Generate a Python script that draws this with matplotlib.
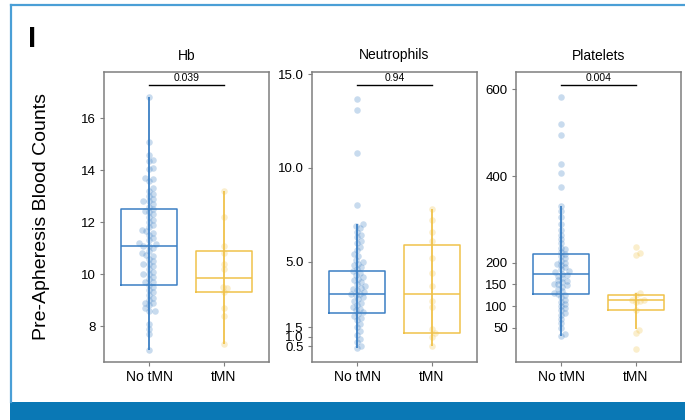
import numpy as np
import matplotlib
matplotlib.use("Agg")
import matplotlib.pyplot as plt
from matplotlib.patches import Rectangle
from matplotlib.lines import Line2D

plt.rcParams['font.family'] = ['Liberation Sans', 'DejaVu Sans']

categories = ["No tMN", "tMN"]
panels = ["Hb", "Neutrophils", "Platelets"]
pvalues = ["0.039", "0.94", "0.004"]

hb_no = [16.8, 15.1, 14.6, 14.4, 14.35, 14.1, 14.05, 13.7, 13.65, 13.6, 13.3, 13.2, 13.1, 13.0,
         12.9, 12.8, 12.8, 12.7, 12.6, 12.5, 12.45, 12.4, 12.3, 12.2, 12.1, 12.0, 11.9, 11.8,
         11.7, 11.65, 11.6, 11.5, 11.4, 11.3, 11.2, 11.15, 11.1, 11.1, 11.0, 10.9, 10.8, 10.75,
         10.7, 10.6, 10.5, 10.4, 10.4, 10.3, 10.2, 10.1, 10.0, 10.0, 9.9, 9.8, 9.7, 9.7, 9.6,
         9.5, 9.4, 9.3, 9.2, 9.1, 9.0, 8.9, 8.9, 8.8, 8.7, 8.6, 8.6, 8.1, 7.9, 7.7, 7.1]
hb_t = [13.2, 12.2, 11.1, 10.8, 10.4, 10.2, 9.5, 9.45, 9.3, 8.7, 8.4, 7.3]

neu_no = [13.7, 13.1, 10.8, 8.0, 7.0, 6.9, 6.8, 6.6, 6.4, 6.3, 6.1, 6.0, 5.8, 5.6, 5.4, 5.3,
          5.1, 5.0, 4.9, 4.8, 4.7, 4.6, 4.5, 4.4, 4.3, 4.2, 4.1, 4.0, 3.9, 3.8, 3.7, 3.6, 3.55,
          3.5, 3.4, 3.3, 3.3, 3.2, 3.1, 3.0, 2.9, 2.8, 2.7, 2.6, 2.5, 2.4, 2.3, 2.2, 2.1, 2.0,
          1.9, 1.7, 1.5, 1.3, 1.1, 0.9, 0.7, 0.5, 0.4]
neu_t = [7.8, 7.2, 6.6, 6.1, 5.2, 4.4, 3.7, 2.9, 2.6, 1.4, 1.2, 1.0, 0.5]

plt_no = [582, 520, 495, 428, 406, 375, 332, 320, 305, 290, 275, 265, 255, 245, 235, 232, 225,
          220, 215, 210, 205, 200, 198, 195, 190, 185, 180, 178, 175, 172, 170, 165, 160, 158,
          155, 152, 150, 148, 145, 140, 135, 130, 128, 125, 120, 115, 110, 105, 100, 95, 90, 85,
          80, 70, 60, 50, 35, 32]
plt_t = [236, 223, 218, 130, 125, 115, 113, 112, 110, 92, 45, 37, 0]

# box statistics: (whislo, q1, med, q3, whishi)
hb_stats = [(7.1, 9.6, 11.1, 12.5, 16.8), (7.3, 9.3, 9.85, 10.9, 13.2)]
neu_stats = [(0.4, 2.28, 3.26, 4.49, 7.0), (0.5, 1.2, 3.26, 5.89, 7.8)]
plt_stats = [(32, 128, 174, 220, 332), (48, 92, 113, 125, 130)]

data = [(hb_no, hb_t), (neu_no, neu_t), (plt_no, plt_t)]
stats = [hb_stats, neu_stats, plt_stats]
yticks = [[8, 10, 12, 14, 16], [0.5, 1.0, 1.5, 5.0, 10.0, 15.0], [50, 100, 150, 200, 400, 600]]
yticklabels = [["8", "10", "12", "14", "16"], ["0.5", "1.0", "1.5", "5.0", "10.0", "15.0"],
               ["50", "100", "150", "200", "400", "600"]]
ylims = [(6.62, 17.78), (-0.35, 15.12), (-29, 640)]

colors = ["#3b7fc4", "#f0c24a"]
W, H = 685, 420
fig = plt.figure(figsize=(W / 100, H / 100), dpi=100)

# frame decorations
fig.add_artist(Line2D([10.5 / W, 1], [1 - 5 / H, 1 - 5 / H], color="#4a9fd6", lw=1.6))
fig.add_artist(Line2D([10.5 / W, 10.5 / W], [18 / H, 1 - 5 / H], color="#4a9fd6", lw=1.6))
fig.add_artist(Rectangle((10 / W, 0), 1, 18 / H, color="#0a78b5", transform=fig.transFigure, lw=0))
fig.text(28 / W, 1 - 39 / H, "I", fontsize=21, fontweight="bold", va="center", ha="left")
fig.text(42 / W, (420 - 216) / H, "Pre-Apheresis Blood Counts", rotation=90,
         fontsize=14, va="center", ha="center")

lefts = [104, 312, 516]
for k in range(3):
    ax = fig.add_axes([lefts[k] / W, 58 / H, 165 / W, 290 / H])
    ax.set_xlim(-0.6, 1.6)
    ax.set_ylim(*ylims[k])
    for s in ax.spines.values():
        s.set_color("#7f7f7f")
        s.set_linewidth(1.1)
    ax.set_xticks([0, 1])
    ax.set_xticklabels(categories, fontsize=10)
    ax.set_yticks(yticks[k])
    ax.set_yticklabels(yticklabels[k], fontsize=9.5)
    ax.tick_params(length=3, width=0.8, color="#7f7f7f", pad=3)
    ax.tick_params(axis="x", labelsize=10)
    ax.set_title(panels[k], fontsize=10, pad=9)

    fig.canvas.draw()
    for g in range(2):
        vals = np.array(data[k][g], dtype=float)
        # beeswarm offsets in display pixels
        pts = ax.transData.transform(np.column_stack([np.full(len(vals), g), vals]))
        order = np.argsort(pts[:, 1])
        placed = []
        xs = np.zeros(len(vals))
        d = 4.2
        for i in order:
            y = pts[i, 1]
            for step in range(0, 40):
                off = (step + 1) // 2 * 1.4 * (1 if step % 2 else -1)
                ok = True
                for (px, py) in placed:
                    if (px - off) ** 2 + (py - y) ** 2 < d * d:
                        ok = False
                        break
                if ok:
                    break
            placed.append((off, y))
            xs[i] = pts[i, 0] + off
        dat = ax.transData.inverted().transform(np.column_stack([xs, pts[:, 1]]))
        lo, q1, med, q3, hi = stats[k][g]
        c = colors[g]
        ax.plot([g, g], [lo, hi], color=c, lw=1.3, zorder=2, solid_capstyle="butt")
        ax.scatter(dat[:, 0], dat[:, 1], s=22, color=c, alpha=0.28, lw=0, zorder=3)
        ax.bxp([dict(whislo=q1, q1=q1, med=med, q3=q3, whishi=q3, fliers=[])],
               positions=[g], widths=0.75, showcaps=False, showfliers=False,
               boxprops=dict(color=c, lw=1.1), medianprops=dict(color=c, lw=1.1),
               whiskerprops=dict(color=c, lw=0), manage_ticks=False, zorder=4)
    ax.set_xlim(-0.6, 1.6)
    ax.set_ylim(*ylims[k])
    ax.set_xticks([0, 1])
    ax.set_xticklabels(categories, fontsize=10)
    ax.plot([0, 1], [0.955, 0.955], color="black", lw=1.0,
            transform=ax.get_xaxis_transform(), clip_on=False)
    ax.text(0.5, 0.962, pvalues[k], fontsize=7.5, ha="center", va="bottom",
            transform=ax.get_xaxis_transform())

fig.savefig("out.png", dpi=100)
